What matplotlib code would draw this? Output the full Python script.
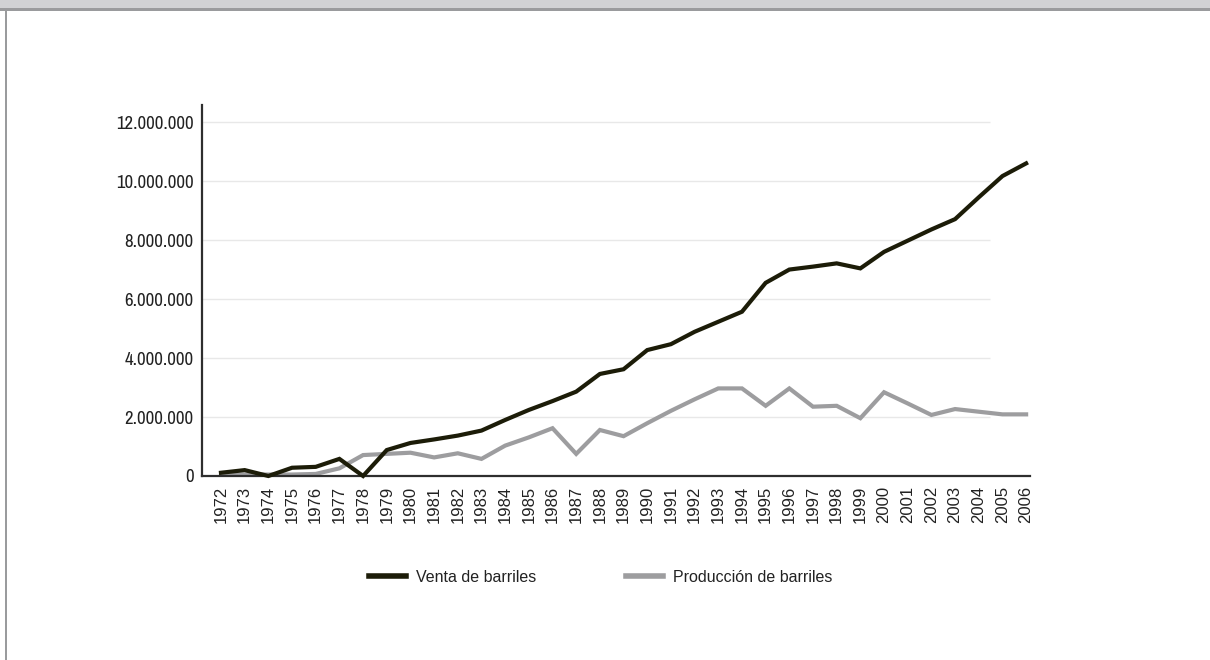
import matplotlib
matplotlib.use("Agg")
import matplotlib.pyplot as plt
from matplotlib.patches import Rectangle
from matplotlib.ticker import FuncFormatter

# barrels per year, 1972-2006
years = list(range(1972, 2007))
venta = [110000, 200000, 0, 280000, 310000, 580000, 0, 880000, 1120000, 1240000,
         1370000, 1540000, 1900000, 2240000, 2540000, 2860000, 3460000, 3620000,
         4270000, 4470000, 4890000, 5230000, 5570000, 6550000, 7000000, 7100000,
         7210000, 7040000, 7600000, 7980000, 8360000, 8710000, 9450000, 10170000,
         10600000]
produccion = [50000, 50000, 50000, 50000, 70000, 260000, 710000, 750000, 790000,
              630000, 770000, 580000, 1030000, 1310000, 1620000, 750000, 1560000,
              1350000, 1790000, 2210000, 2600000, 2970000, 2970000, 2380000,
              2970000, 2350000, 2380000, 1960000, 2840000, 2460000, 2070000,
              2270000, 2180000, 2090000, 2090000]
y_ticks = [0, 2000000, 4000000, 6000000, 8000000, 10000000, 12000000]
series_names = ["Venta de barriles", "Producción de barriles"]

W, H = 1210, 660
fig = plt.figure(figsize=(W / 100, H / 100), dpi=100)
fig.patch.set_facecolor("white")

# page frame: grey band on top, thin rule under it and down the left side
fig.patches.append(Rectangle((0, 1 - 8 / H), 1, 8 / H, transform=fig.transFigure,
                             facecolor="#d1d2d4", edgecolor="none", zorder=0))
fig.patches.append(Rectangle((0, 1 - 10.5 / H), 1, 2.5 / H, transform=fig.transFigure,
                             facecolor="#9a9b9d", edgecolor="none", zorder=0))
fig.patches.append(Rectangle((5 / W, 0), 2.2 / W, 1 - 8 / H, transform=fig.transFigure,
                             facecolor="#9a9b9d", edgecolor="none", zorder=0))

ax_left, ax_right, ax_top, ax_bottom = 202, 1030, 105, 476
ax = fig.add_axes([ax_left / W, 1 - ax_bottom / H, (ax_right - ax_left) / W,
                   (ax_bottom - ax_top) / H])

x_first, step = 221, 23.68
ax.set_xlim(1972 - (x_first - ax_left) / step, 2006 + (ax_right - (x_first + 34 * step)) / step)
ax.set_ylim(0, 12580000)

# light grid lines stop a little before the end of the axis
grid_end = 1972 + (990 - x_first) / step
ax.hlines(y_ticks[1:], ax.get_xlim()[0], grid_end, colors="#e8e8e8", linewidth=1, zorder=1)

ax.plot(years, venta, color="#1c1c08", linewidth=3.0, solid_joinstyle="miter",
        label=series_names[0], zorder=3, clip_on=False)
ax.plot(years, produccion, color="#9d9d9f", linewidth=3.0, solid_joinstyle="miter",
        label=series_names[1], zorder=2, clip_on=False)

for side in ("top", "right"):
    ax.spines[side].set_visible(False)
for side in ("left", "bottom"):
    ax.spines[side].set_color("#2e2e2e")
    ax.spines[side].set_linewidth(1.6)

ax.set_yticks(y_ticks)
ax.yaxis.set_major_formatter(FuncFormatter(lambda v, p: f"{int(v):,}".replace(",", ".")))
ax.tick_params(axis="y", length=0, pad=6, labelsize=13.5, labelcolor="#222222")
for lbl in ax.get_yticklabels():
    lbl.set_family(["Archivo Narrow", "Liberation Sans", "DejaVu Sans"])

ax.set_xticks(years)
ax.set_xticklabels([str(y) for y in years], rotation=90, family="Liberation Sans",
                   fontsize=12, color="#222222")
ax.tick_params(axis="x", length=0, pad=7)

leg = fig.legend(loc="center", bbox_to_anchor=(601 / W, 1 - 577 / H), ncol=2,
                 frameon=False, handlelength=2.3, handletextpad=0.65,
                 columnspacing=5.6, prop={"family": "Liberation Sans", "size": 11.5})
for line in leg.get_lines():
    line.set_linewidth(4)
for t in leg.get_texts():
    t.set_color("#222222")

fig.savefig("out.png", dpi=100, facecolor=fig.get_facecolor())
